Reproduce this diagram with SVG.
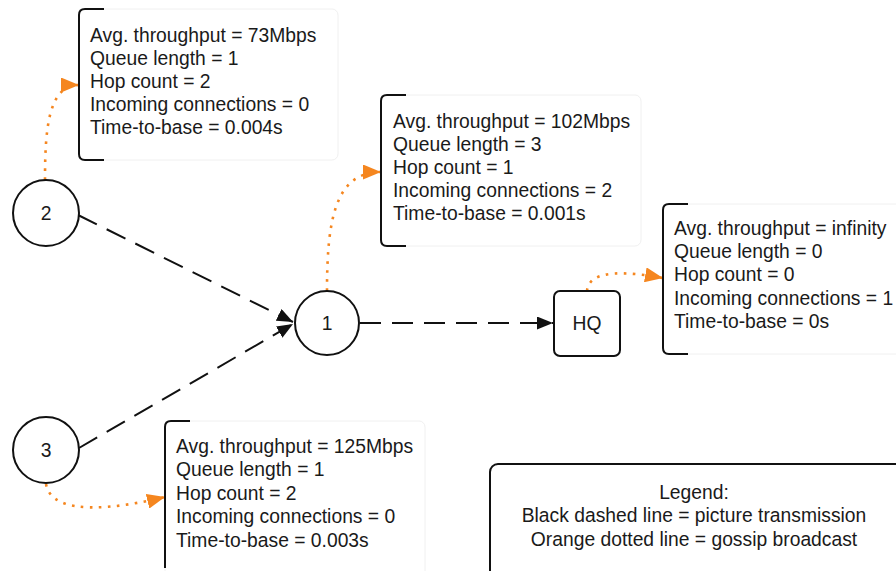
<svg xmlns="http://www.w3.org/2000/svg" width="896" height="571" viewBox="0 0 896 571">
<defs>
<style>
text{font-family:"Liberation Sans",Arial,sans-serif;font-size:19.3px;fill:#1a1a1a}
.node{fill:#fff;stroke:#111;stroke-width:2}
.panel{fill:#fff;stroke:#f0f0f0;stroke-width:1}
.bracket{fill:none;stroke:#111;stroke-width:2}
.dash{fill:none;stroke:#111;stroke-width:2;stroke-dasharray:21 11}
.dot{fill:none;stroke:#f5861f;stroke-width:2.6;stroke-dasharray:2.6 6.4}
.c{text-anchor:middle}
</style>
<marker id="ab" markerWidth="17" markerHeight="13" refX="16" refY="6.5" orient="auto" markerUnits="userSpaceOnUse">
<path d="M0,0 L16,6.5 L0,13 Z" fill="#111"/>
</marker>
<marker id="ao" markerWidth="19" markerHeight="15" refX="18" refY="7.5" orient="auto" markerUnits="userSpaceOnUse">
<path d="M0,0 L18,7.5 L0,15 Z" fill="#f5861f"/>
</marker>
</defs>
<rect width="896" height="571" fill="#fff"/>
<g id="connectors">
<path class="dash" d="M78,215 L293,322" marker-end="url(#ab)"/>
<path class="dash" d="M79,448 L293,324" marker-end="url(#ab)"/>
<path class="dash" d="M360,323 L553,323" marker-end="url(#ab)"/>
<path class="dot" d="M45,180 C45,130 48,85 79,85" marker-end="url(#ao)"/>
<path class="dot" d="M327,291 C327,220 335,172 381,172" marker-end="url(#ao)"/>
<path class="dot" d="M587,291 C589,268 630,272 663,278" marker-end="url(#ao)"/>
<path class="dot" d="M46,484 C52,518 120,508 165,497" marker-end="url(#ao)"/>
</g>
<g id="node-2">
<circle class="node" cx="46" cy="213" r="33"/>
<text class="c" x="46" y="220">2</text>
</g>
<g id="node-1">
<circle class="node" cx="327" cy="323" r="32"/>
<text class="c" x="327" y="330">1</text>
</g>
<g id="node-hq">
<rect class="node" x="554" y="291" width="66" height="65" rx="6"/>
<text class="c" x="587" y="330">HQ</text>
</g>
<g id="node-3">
<circle class="node" cx="46" cy="450" r="33"/>
<text class="c" x="46" y="457">3</text>
</g>
<g id="info-2">
<rect class="panel" x="79" y="9" width="259" height="151" rx="6"/>
<path class="bracket" d="M104,9 H85 Q79,9 79,15 V154 Q79,160 85,160 H104"/>
<text x="90" y="42">Avg. throughput = 73Mbps</text>
<text x="90" y="65">Queue length = 1</text>
<text x="90" y="88">Hop count = 2</text>
<text x="90" y="111">Incoming connections = 0</text>
<text x="90" y="134">Time-to-base = 0.004s</text>
</g>
<g id="info-1">
<rect class="panel" x="381" y="95" width="260" height="151" rx="6"/>
<path class="bracket" d="M406,95 H387 Q381,95 381,101 V240 Q381,246 387,246 H406"/>
<text x="393" y="128">Avg. throughput = 102Mbps</text>
<text x="393" y="151">Queue length = 3</text>
<text x="393" y="174">Hop count = 1</text>
<text x="393" y="197">Incoming connections = 2</text>
<text x="393" y="220">Time-to-base = 0.001s</text>
</g>
<g id="info-hq">
<rect class="panel" x="663" y="204" width="260" height="150" rx="6"/>
<path class="bracket" d="M688,204 H669 Q663,204 663,210 V348 Q663,354 669,354 H688"/>
<text x="674" y="235">Avg. throughput = infinity</text>
<text x="674" y="258">Queue length = 0</text>
<text x="674" y="281">Hop count = 0</text>
<text x="674" y="305">Incoming connections = 1</text>
<text x="674" y="328">Time-to-base = 0s</text>
</g>
<g id="info-3">
<rect class="panel" x="165" y="421" width="260" height="160" rx="6"/>
<path class="bracket" d="M190,421 H171 Q165,421 165,427 V568"/>
<text x="176" y="453">Avg. throughput = 125Mbps</text>
<text x="176" y="476">Queue length = 1</text>
<text x="176" y="500">Hop count = 2</text>
<text x="176" y="523">Incoming connections = 0</text>
<text x="176" y="547">Time-to-base = 0.003s</text>
</g>
<g id="legend">
<rect x="490" y="464" width="430" height="130" rx="8" fill="#fff" stroke="#111" stroke-width="2"/>
<text class="c" x="694" y="499">Legend:</text>
<text class="c" x="694" y="522">Black dashed line = picture transmission</text>
<text class="c" x="694" y="546">Orange dotted line = gossip broadcast</text>
</g>
</svg>
